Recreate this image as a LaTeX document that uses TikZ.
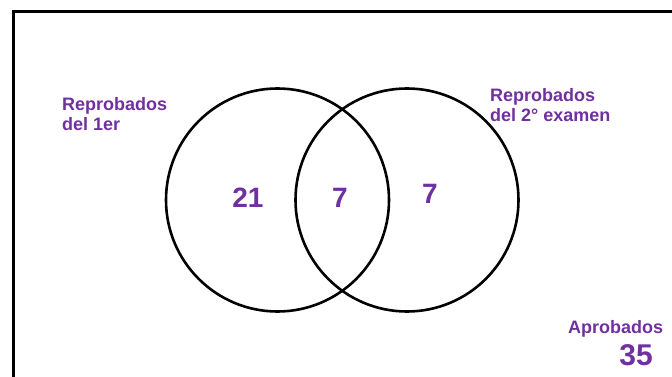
\documentclass[tikz,border=0pt]{standalone}
\usepackage{fontspec}
\setmainfont{Liberation Sans}
\definecolor{labpurple}{RGB}{112,48,160}
\begin{document}
\begin{tikzpicture}[x=1pt,y=-1pt,
  lab/.style={anchor=base west,inner sep=0pt,text=labpurple,font=\fontsize{18}{20}\selectfont\bfseries},
  num/.style={anchor=base,inner sep=0pt,text=labpurple,font=\fontsize{28}{30}\selectfont\bfseries},
  ring/.style={draw=black,line width=2.6pt}]
\useasboundingbox (0,0) rectangle (672,377);
\begin{scope}
\clip (0,0) rectangle (672,377);
\draw[line width=3pt] (13.5,12) rectangle (720,420);
\end{scope}
\node[ring,circle,minimum size=223pt,inner sep=0pt] (A) at (277.5,200) {};
\node[ring,circle,minimum size=223pt,inner sep=0pt] (B) at (407,200) {};
\node[lab] (l1a) at (62,111) {Reprobados};
\node[lab] (l1b) at (62,130.5) {del 1er};
\node[lab] (l2a) at (490,101.5) {Reprobados};
\node[lab] (l2b) at (490,121.5) {del 2° examen};
\node[num] (n21) at (248,207.5) {21};
\node[num] (n7a) at (340,207) {7};
\node[num] (n7b) at (430,203) {7};
\node[lab] (ap) at (568,333) {Aprobados};
\node[num,font=\fontsize{30}{32}\selectfont\bfseries] (n35) at (636,365) {35};
\end{tikzpicture}
\end{document}
